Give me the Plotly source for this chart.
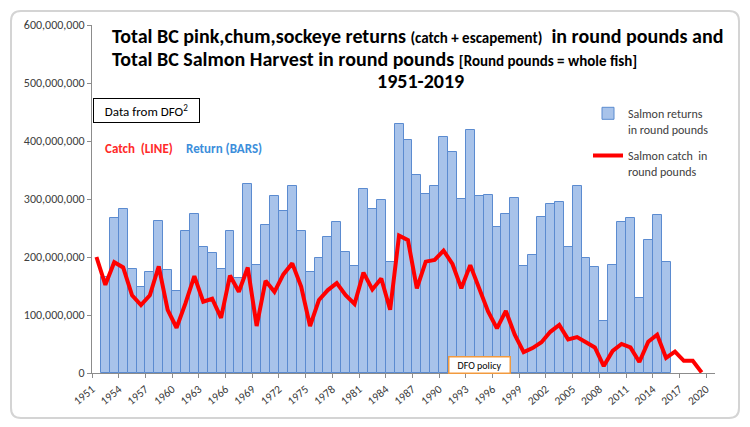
import plotly.graph_objects as go

# ---- data ----
bar_years = list(range(1952, 2016))
returns_lbs = [
    165e6, 268e6, 282e6, 180e6, 149e6, 174e6, 262e6, 177e6, 141e6, 244e6,
    274e6, 217e6, 207e6, 179e6, 244e6, 164e6, 326e6, 187e6, 256e6, 306e6,
    279e6, 322e6, 244e6, 174e6, 198e6, 234e6, 260e6, 209e6, 185e6, 318e6,
    282e6, 298e6, 191e6, 429e6, 401e6, 341e6, 309e6, 322e6, 407e6, 381e6,
    300e6, 419e6, 306e6, 307e6, 251e6, 274e6, 301e6, 185e6, 204e6, 269e6,
    291e6, 294e6, 217e6, 323e6, 199e6, 182e6, 90e6, 186e6, 260e6, 268e6,
    130e6, 229e6, 272e6, 191e6,
]
line_years = list(range(1951, 2020))
catch_lbs = [
    200e6, 152e6, 191e6, 182e6, 134e6, 117e6, 134e6, 184e6, 109e6, 78e6,
    120e6, 167e6, 123e6, 128e6, 95e6, 168e6, 140e6, 182e6, 81e6, 159e6,
    140e6, 170e6, 189e6, 149e6, 81e6, 126e6, 143e6, 155e6, 134e6, 119e6,
    173e6, 144e6, 163e6, 109e6, 237e6, 229e6, 146e6, 192e6, 195e6, 211e6,
    188e6, 146e6, 186e6, 144e6, 106e6, 77e6, 107e6, 66e6, 36e6, 43e6,
    53e6, 71e6, 83e6, 58e6, 62e6, 53e6, 44e6, 12e6, 38e6, 50e6,
    44e6, 19e6, 54e6, 66e6, 26e6, 37e6, 21e6, 21e6, 1e6,
]
tick_labels = [str(y) for y in range(1951, 2021, 3)]
tick_positions = [int(t) - 0.5 for t in tick_labels]

FONT = "Carlito, Lato, 'Open Sans', sans-serif"

# plot area in pixels
L, R, T, B = 92, 715, 25, 373
W, H = 750, 427


def px(x):
    return (x - L) / (R - L)


def py(y):
    return (B - y) / (B - T)


fig = go.Figure()
fig.add_trace(go.Bar(
    x=bar_years, y=returns_lbs, width=1.0,
    name="Salmon returns<br>in round pounds", legendgroup="a",
    marker=dict(color="#a8c3ea", line=dict(color="#5b8bd0", width=1)),
))
fig.add_trace(go.Scatter(
    x=line_years, y=catch_lbs, mode="lines",
    name="Salmon catch  in<br>round pounds", legendgroup="b",
    line=dict(color="#ff0000", width=4),
))

# rounded chart-area frame
x0, y0, x1, y1 = px(11), py(11), px(739), py(418)
rx, ry = 10 / (R - L), 10 / (B - T)
path = (f"M {x0+rx},{y0} L {x1-rx},{y0} Q {x1},{y0} {x1},{y0-ry} "
        f"L {x1},{y1+ry} Q {x1},{y1} {x1-rx},{y1} L {x0+rx},{y1} "
        f"Q {x0},{y1} {x0},{y1+ry} L {x0},{y0-ry} Q {x0},{y0} {x0+rx},{y0} Z")
shapes = [dict(type="path", xref="paper", yref="paper", path=path,
               line=dict(color="#d4d4d4", width=2), layer="below")]

annotations = [
    dict(x=px(110), y=py(36), xref="paper", yref="paper", xanchor="left", yanchor="middle",
         showarrow=False, font=dict(family=FONT, size=20, color="#000000"),
         text="<b>Total BC pink,chum,sockeye returns <span style='font-size:15px'>(catch + escapement)</span>  in round pounds and</b>"),
    dict(x=px(110), y=py(59), xref="paper", yref="paper", xanchor="left", yanchor="middle",
         showarrow=False, font=dict(family=FONT, size=20, color="#000000"),
         text="<b>Total BC Salmon Harvest in round pounds <span style='font-size:15px'>[Round pounds = whole fish]</span></b>"),
    dict(x=px(420), y=py(81), xref="paper", yref="paper", xanchor="center", yanchor="middle",
         showarrow=False, font=dict(family=FONT, size=20, color="#000000"),
         text="<b>1951-2019</b>"),
    dict(x=px(93), y=py(111), xref="paper", yref="paper", xanchor="left", yanchor="middle",
         showarrow=False, font=dict(family=FONT, size=13, color="#000000"),
         text="Data from DFO<sup>2</sup>", bordercolor="#000000", borderwidth=1,
         borderpad=3, bgcolor="#ffffff", width=99),
    dict(x=px(103), y=py(148), xref="paper", yref="paper", xanchor="left", yanchor="middle",
         showarrow=False, font=dict(family=FONT, size=13, color="#ff2a2a"),
         text="<b>Catch  (LINE)</b>"),
    dict(x=px(184), y=py(148), xref="paper", yref="paper", xanchor="left", yanchor="middle",
         showarrow=False, font=dict(family=FONT, size=13, color="#3c8edb"),
         text="<b>Return (BARS)</b>"),
    dict(x=px(479), y=py(365), xref="paper", yref="paper", xanchor="center", yanchor="middle",
         showarrow=False, font=dict(family=FONT, size=10, color="#000000"),
         text="DFO policy", bordercolor="#f29a3e", borderwidth=1.5, borderpad=1,
         bgcolor="#ffffff", width=58),
]

fig.update_layout(
    width=W, height=H,
    margin=dict(l=L, r=W - R, t=T, b=H - B),
    paper_bgcolor="#ffffff", plot_bgcolor="#ffffff",
    bargap=0,
    font=dict(family=FONT, size=11, color="#404040"),
    showlegend=True,
    legend=dict(x=px(588), y=py(99), xanchor="left", yanchor="top",
                font=dict(family=FONT, size=12, color="#404040"),
                bgcolor="rgba(0,0,0,0)", tracegroupgap=8, valign="top",
                traceorder="grouped", itemwidth=30),
    xaxis=dict(range=[1950.5, 2020.5], tickmode="array", tickvals=tick_positions,
               ticktext=tick_labels, tickangle=-40, ticks="outside", ticklen=4,
               tickcolor="#8c8c8c", showline=True, linecolor="#8c8c8c", linewidth=1,
               showgrid=False, zeroline=False, tickfont=dict(size=11.5, color="#404040")),
    yaxis=dict(range=[0, 600e6], tickmode="linear", tick0=0, dtick=100e6,
               tickformat=",d", ticks="outside", ticklen=4, tickcolor="#8c8c8c",
               showline=True, linecolor="#8c8c8c", linewidth=1, showgrid=False,
               zeroline=False, tickfont=dict(size=12, color="#404040")),
    shapes=shapes,
    annotations=annotations,
)

fig.write_html("out.html")
